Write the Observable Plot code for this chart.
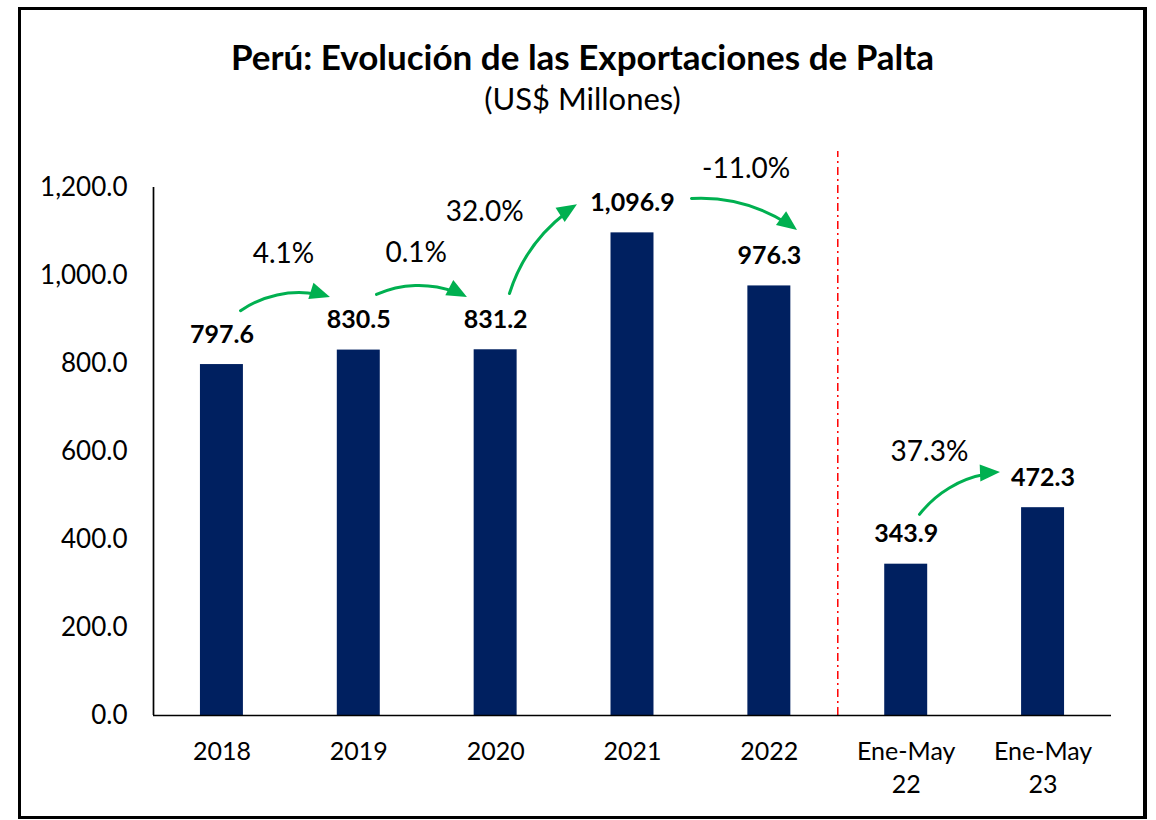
<!DOCTYPE html>
<html>
<head>
<meta charset="utf-8">
<script src="https://cdn.jsdelivr.net/npm/d3@7"></script>
<script src="https://cdn.jsdelivr.net/npm/@observablehq/plot@0.6"></script>
<style>
  html, body { margin: 0; padding: 0; background: #fff; }
  body { width: 1156px; height: 820px; position: relative; overflow: hidden; font-family: Lato, "Open Sans", sans-serif; }
  #frame { position: absolute; left: 18px; top: 7px; width: 1129px; height: 812px; box-sizing: border-box; border: 3px solid #000; border-right-width: 4px; pointer-events: none; z-index: 2; }
  #title { position: absolute; left: 18px; width: 1129px; top: 39px; text-align: center; font-weight: 700; font-size: 35px; line-height: 35px; color: #000; white-space: nowrap; }
  #subtitle { position: absolute; left: 18px; width: 1129px; top: 83px; text-align: center; font-size: 31px; line-height: 31px; color: #000; white-space: nowrap; }
  #chart { position: absolute; left: 0; top: 120px; }
</style>
</head>
<body>
<div id="frame"></div>
<div id="title">Perú: Evolución de las Exportaciones de Palta</div>
<div id="subtitle">(US$ Millones)</div>
<div id="chart"></div>
<script>
// ---- data ----
const categories = ["2018", "2019", "2020", "2021", "2022", "Ene-May\n22", "Ene-May\n23"];
const values = [797.6, 830.5, 831.2, 1096.9, 976.3, 343.9, 472.3];
const yTicks = [0, 200, 400, 600, 800, 1000, 1200];
const growthPct = [4.1, 0.1, 32.0, -11.0, 37.3];
// annotation anchors, in data units (category index, US$ millions)
const growthLabelAt = [[0.45, 1048], [1.42, 1052], [1.92, 1145], [3.83, 1241], [5.17, 598]];
const growthArrowFrom = [[0.136, 920], [1.129, 957], [2.101, 959], [3.431, 1175], [5.097, 457]];
const growthArrowTo = [[0.793, 950], [1.794, 950], [2.598, 1161], [4.206, 1102], [5.689, 552]];
const growthArrowBend = [26, 26, 20, 20, 25];
const separatorAt = 4.5;
const separatorTop = 1282;

// ---- tables ----
const bars = categories.map((c, i) => ({i, label: c, value: values[i]}));
const growth = growthPct.map((p, k) => ({
  pct: p,
  lx: growthLabelAt[k][0], ly: growthLabelAt[k][1],
  x1: growthArrowFrom[k][0], y1: growthArrowFrom[k][1],
  x2: growthArrowTo[k][0], y2: growthArrowTo[k][1],
  bend: growthArrowBend[k]
}));

const navy = "#002060";
const green = "#00B050";
const fmt = d3.format(",.1f");
const halfBar = 0.157;

// custom mark: filled arrow heads aligned with the arc's end tangent
function arrowHeads(index, scales) {
  const g = d3.create("svg:g");
  const L = 20, W = 17;
  for (const a of growth) {
    const X1 = scales.x(a.x1), Y1 = scales.y(a.y1), X2 = scales.x(a.x2), Y2 = scales.y(a.y2);
    const ang = Math.atan2(Y2 - Y1, X2 - X1) + a.bend * Math.PI / 180;
    const bx = X2 - L * Math.cos(ang), by = Y2 - L * Math.sin(ang);
    const px = -Math.sin(ang) * W / 2, py = Math.cos(ang) * W / 2;
    g.append("path")
      .attr("d", `M${X2},${Y2}L${bx + px},${by + py}L${bx - px},${by - py}Z`)
      .attr("fill", green);
  }
  return g.node();
}

const arrowBodies = growth.map(a =>
  Plot.arrow([a], {x1: "x1", y1: "y1", x2: "x2", y2: "y2", bend: a.bend, stroke: green, strokeWidth: 3, headLength: 0, insetEnd: 14})
);

const chart = Plot.plot({
  width: 1156,
  height: 690,
  marginLeft: 153,
  marginRight: 45,
  marginTop: 67,
  marginBottom: 95,
  style: {fontFamily: "Lato, 'Open Sans', sans-serif", background: "transparent", color: "#000", overflow: "visible"},
  x: {domain: [-0.5, 6.5]},
  y: {domain: [0, 1200]},
  marks: [
    Plot.rectY(bars, {x1: d => d.i - halfBar, x2: d => d.i + halfBar, y: "value", fill: navy}),
    Plot.ruleX([separatorAt], {y1: 0, y2: separatorTop, stroke: "#FF0000", strokeWidth: 1.5, strokeDasharray: "8,4,2,4"}),
    Plot.ruleX([-0.5], {y1: 0, y2: 1200, stroke: "#000", strokeWidth: 1.7}),
    Plot.ruleY([0], {x1: -0.5, x2: 6.5, stroke: "#000", strokeWidth: 1.7}),
    Plot.axisY({ticks: yTicks, tickFormat: fmt, tickSize: 0, tickPadding: 26, fontSize: 26}),
    Plot.axisX({ticks: d3.range(categories.length), tickFormat: i => categories[i], tickSize: 0, tickPadding: 21, fontSize: 25, lineHeight: 1.32}),
    Plot.text(bars, {x: "i", y: "value", text: d => fmt(d.value), dy: -30, fontSize: 25, fontWeight: "bold", fill: "#000"}),
    ...arrowBodies,
    arrowHeads,
    Plot.text(growth, {x: "lx", y: "ly", text: d => d.pct.toFixed(1) + "%", fontSize: 28, fill: "#000"})
  ]
});
document.getElementById("chart").appendChild(chart);
</script>
</body>
</html>
